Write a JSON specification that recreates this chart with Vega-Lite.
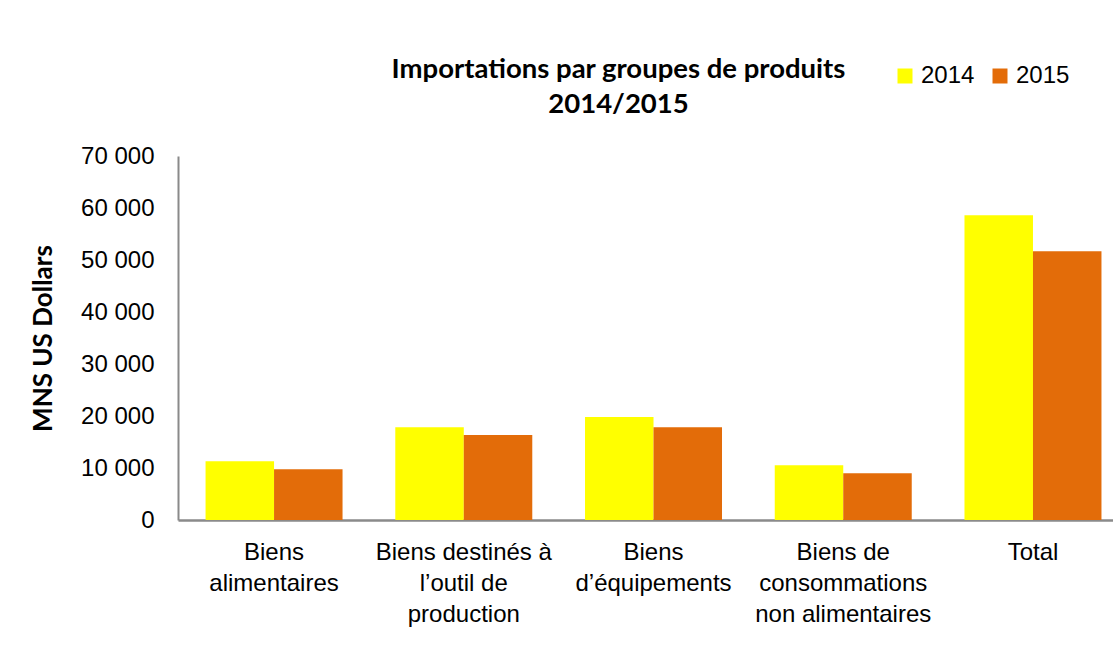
{
  "$schema": "https://vega.github.io/schema/vega-lite/v6.json",
  "autosize": {"type": "none"},
  "width": 935,
  "height": 364,
  "padding": {"left": 178, "top": 156, "right": 0, "bottom": 126},
  "background": "white",
  "title": {
    "text": ["Importations par groupes de produits", "2014/2015"],
    "font": "Lato",
    "fontWeight": "bold",
    "fontSize": 27.5,
    "lineHeight": 35,
    "color": "#000000",
    "anchor": "middle",
    "dx": -27,
    "dy": 94,
    "offset": 40
  },
  "data": {
    "values": [
      {"categorie": "Biens alimentaires", "annee": "2014", "valeur": 11290},
      {"categorie": "Biens alimentaires", "annee": "2015", "valeur": 9750},
      {"categorie": "Biens destinés à l’outil de production", "annee": "2014", "valeur": 17830},
      {"categorie": "Biens destinés à l’outil de production", "annee": "2015", "valeur": 16350},
      {"categorie": "Biens d’équipements", "annee": "2014", "valeur": 19810},
      {"categorie": "Biens d’équipements", "annee": "2015", "valeur": 17830},
      {"categorie": "Biens de consommations non alimentaires", "annee": "2014", "valeur": 10520},
      {"categorie": "Biens de consommations non alimentaires", "annee": "2015", "valeur": 8980},
      {"categorie": "Total", "annee": "2014", "valeur": 58600},
      {"categorie": "Total", "annee": "2015", "valeur": 51670}
    ]
  },
  "mark": {"type": "bar"},
  "encoding": {
    "x": {
      "field": "categorie",
      "type": "nominal",
      "sort": null,
      "scale": {"paddingInner": 0.278, "paddingOuter": 0.103, "align": 0.705},
      "axis": {
        "title": null,
        "labelAngle": 0,
        "labelLimit": 0,
        "labelFont": "Liberation Sans",
        "labelFontSize": 24,
        "labelColor": "#000000",
        "labelLineHeight": 31,
        "labelPadding": 20,
        "ticks": false,
        "tickSize": 0,
        "domainColor": "#8a8a8a",
        "domainWidth": 2.5,
        "labelExpr": "datum.value == 'Biens alimentaires' ? ['Biens', 'alimentaires'] : datum.value == 'Biens destinés à l’outil de production' ? ['Biens destinés à', 'l’outil de', 'production'] : datum.value == 'Biens d’équipements' ? ['Biens', 'd’équipements'] : datum.value == 'Biens de consommations non alimentaires' ? ['Biens de', 'consommations', 'non alimentaires'] : datum.value"
      }
    },
    "xOffset": {"field": "annee", "type": "nominal"},
    "y": {
      "field": "valeur",
      "type": "quantitative",
      "scale": {"domain": [0, 70000], "nice": false},
      "axis": {
        "title": "MNS US Dollars",
        "titleFont": "Lato",
        "titleFontWeight": "bold",
        "titleFontSize": 26,
        "titleColor": "#000000",
        "titlePadding": 24,
        "values": [0, 10000, 20000, 30000, 40000, 50000, 60000, 70000],
        "labelExpr": "replace(format(datum.value, ',d'), ',', ' ')",
        "labelFont": "Liberation Sans",
        "labelFontSize": 24,
        "labelColor": "#000000",
        "labelPadding": 24,
        "ticks": false,
        "tickSize": 0,
        "grid": false,
        "domainColor": "#8a8a8a",
        "domainWidth": 2
      }
    },
    "color": {
      "field": "annee",
      "type": "nominal",
      "scale": {"domain": ["2014", "2015"], "range": ["#FFFF00", "#E36C09"]},
      "legend": {
        "title": null,
        "orient": "none",
        "legendX": 715,
        "legendY": -92,
        "direction": "horizontal",
        "symbolType": "square",
        "symbolSize": 225,
        "symbolStrokeWidth": 0,
        "labelFont": "Liberation Sans",
        "labelFontSize": 24,
        "labelColor": "#000000",
        "labelOffset": 4,
        "columnPadding": 13,
        "padding": 0
      }
    }
  },
  "config": {
    "view": {"stroke": null}
  }
}
